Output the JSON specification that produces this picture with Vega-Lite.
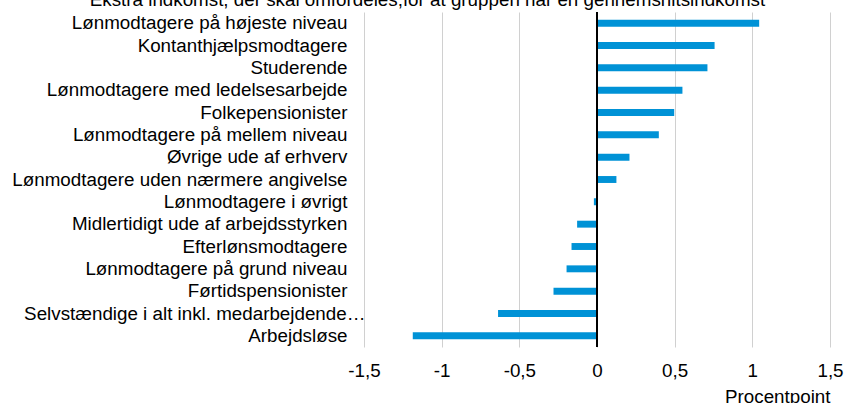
{
  "$schema": "https://vega.github.io/schema/vega-lite/v6.json",
  "autosize": {"type": "none"},
  "width": 466,
  "height": 335,
  "padding": {"left": 364, "top": 12, "right": 15, "bottom": 56},
  "background": "white",
  "title": {
    "text": "Ekstra indkomst, der skal omfordeles,for at gruppen når en gennemsnitsindkomst",
    "font": "Liberation Sans",
    "fontSize": 18.8,
    "fontWeight": "normal",
    "color": "#000000",
    "anchor": "middle",
    "frame": "bounds",
    "baseline": "alphabetic",
    "offset": 0,
    "dy": 14
  },
  "config": {
    "view": {"stroke": null},
    "font": "Liberation Sans"
  },
  "data": {
    "values": [
      {"gruppe": "Lønmodtagere på højeste niveau", "vaerdi": 1.044},
      {"gruppe": "Kontanthjælpsmodtagere", "vaerdi": 0.757},
      {"gruppe": "Studerende", "vaerdi": 0.711},
      {"gruppe": "Lønmodtagere med ledelsesarbejde", "vaerdi": 0.55},
      {"gruppe": "Folkepensionister", "vaerdi": 0.497},
      {"gruppe": "Lønmodtagere på mellem niveau", "vaerdi": 0.398},
      {"gruppe": "Øvrige ude af erhverv", "vaerdi": 0.209},
      {"gruppe": "Lønmodtagere uden nærmere angivelse", "vaerdi": 0.125},
      {"gruppe": "Lønmodtagere i øvrigt", "vaerdi": -0.02},
      {"gruppe": "Midlertidigt ude af arbejdsstyrken", "vaerdi": -0.128},
      {"gruppe": "Efterlønsmodtagere", "vaerdi": -0.164},
      {"gruppe": "Lønmodtagere på grund niveau", "vaerdi": -0.196},
      {"gruppe": "Førtidspensionister", "vaerdi": -0.28},
      {"gruppe": "Selvstændige i alt inkl. medarbejdende ægtefæller", "vaerdi": -0.637},
      {"gruppe": "Arbejdsløse", "vaerdi": -1.186}
    ]
  },
  "layer": [
    {
      "mark": {"type": "bar", "color": "#0092D6"},
      "encoding": {
        "y": {
          "field": "gruppe",
          "type": "nominal",
          "sort": null,
          "scale": {"paddingInner": 0.69, "paddingOuter": 0.345},
          "axis": {
            "title": null,
            "domain": false,
            "ticks": false,
            "labelExpr": "datum.value == 'Selvstændige i alt inkl. medarbejdende ægtefæller' ? 'Selvstændige i alt inkl. medarbejdende…' : datum.label",
            "labelPadding": {
              "condition": {"test": "datum.value == 'Selvstændige i alt inkl. medarbejdende ægtefæller'", "value": -1},
              "value": 17
            },
            "labelFontSize": 18.8,
            "labelColor": "#000000",
            "labelLimit": 400,
            "labelFont": "Liberation Sans"
          }
        },
        "x": {
          "field": "vaerdi",
          "type": "quantitative",
          "scale": {"domain": [-1.5, 1.5], "nice": false},
          "axis": {
            "values": [-1.5, -1, -0.5, 0, 0.5, 1, 1.5],
            "labelExpr": "replace(toString(datum.value), '.', ',')",
            "title": "Procentpoint",
            "titleAnchor": "end",
            "titleFontWeight": "normal",
            "titleFontSize": 18.8,
            "titleFont": "Liberation Sans",
            "titleColor": "#000000",
            "titlePadding": 8,
            "domain": false,
            "ticks": false,
            "grid": true,
            "gridColor": "#D0D0D0",
            "gridWidth": 1,
            "labelPadding": 14,
            "labelFontSize": 18.8,
            "labelFont": "Liberation Sans",
            "labelColor": "#000000",
            "labelFlush": false
          }
        }
      }
    },
    {
      "data": {"values": [{"nul": 0}]},
      "mark": {"type": "rule", "color": "#000000", "strokeWidth": 2},
      "encoding": {
        "x": {"field": "nul", "type": "quantitative"}
      }
    }
  ]
}
